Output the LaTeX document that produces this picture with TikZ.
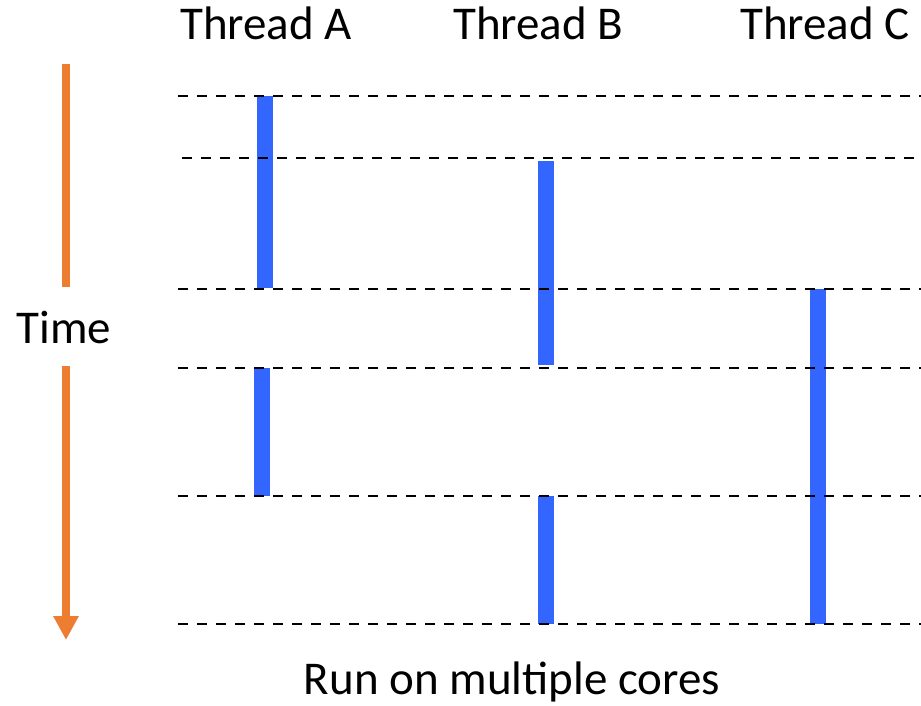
\documentclass[tikz,border=0pt]{standalone}
\usepackage{fontspec}
\setmainfont{Carlito}
\usetikzlibrary{arrows.meta}
\definecolor{runblue}{HTML}{3366FF}
\definecolor{timeorange}{HTML}{ED7D31}
\tikzset{
  label text/.style={font=\fontsize{47}{56}\selectfont, inner sep=0pt, text=black},
  slot line/.style={draw=black, line width=2.8pt, dash pattern=on 10pt off 9pt},
  run bar/.style={draw=runblue, line width=16pt},
  time axis/.style={draw=timeorange, line width=8pt},
}
\begin{document}
\begin{tikzpicture}[x=1pt, y=-1pt]
  \useasboundingbox (0,0) rectangle (921,706);

  % thread headers
  \node[label text, anchor=base west] (thA) at (180,40) {Thread A};
  \node[label text, anchor=base west] (thB) at (453,40) {Thread B};
  \node[label text, anchor=base west] (thC) at (740,40) {Thread C};

  % time axis
  \node[label text, anchor=base] (time) at (64,343) {Time};
  \coordinate (axtop) at (66,64);
  \coordinate (axgap1) at (66,287);
  \coordinate (axgap2) at (66,366);
  \coordinate (axtip) at (66,640);
  \draw[time axis] (axtop) -- (axgap1);
  \draw[time axis, -{Triangle[width=24pt, length=24pt]}] (axgap2) -- (axtip);

  % running intervals of each thread
  \draw[run bar] (265,96) -- (265,288);
  \draw[run bar] (262,368) -- (262,496);
  \draw[run bar] (546,161) -- (546,365);
  \draw[run bar] (546,496) -- (546,624);
  \draw[run bar] (818,289) -- (818,624);

  % scheduling boundaries
  \draw[slot line] (178,96) -- (921,96);
  \draw[slot line] (182,158) -- (921,158);
  \draw[slot line] (178,289) -- (921,289);
  \draw[slot line] (178,368) -- (921,368);
  \draw[slot line] (178,496) -- (921,496);
  \draw[slot line] (178,624) -- (921,624);

  % caption
  \node[label text, anchor=base] (caption) at (512,694) {Run on multiple cores};
\end{tikzpicture}
\end{document}
